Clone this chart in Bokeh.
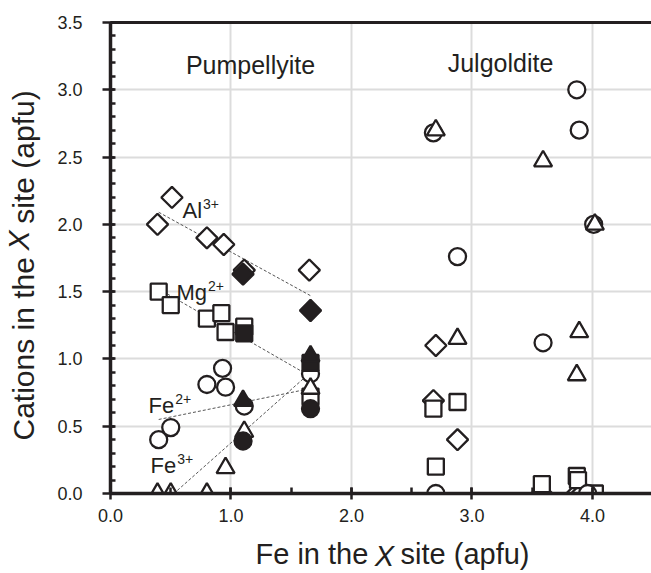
import math

from bokeh.embed import file_html
from bokeh.models import (FixedTicker, Label, LinearAxis, NumeralTickFormatter,
                          Range1d, SingleIntervalTicker, Title)
from bokeh.plotting import figure
from bokeh.resources import INLINE

# ---------------------------------------------------------------------------
# X-site cations (apfu) against Fe in the X site (apfu)
# open symbols and filled symbols are the two sets of analyses
# ---------------------------------------------------------------------------

# Al3+ (diamonds)
al_open_x = [0.39, 0.51, 0.80, 0.94, 1.11, 1.65, 2.70, 2.68, 2.88, 3.58, 3.87, 3.91]
al_open_y = [2.00, 2.20, 1.90, 1.85, 1.66, 1.66, 1.10, 0.69, 0.40, 0.00, 0.00, 0.00]
al_fill_x = [1.10, 1.66]
al_fill_y = [1.63, 1.36]

# Mg2+ (squares)
mg_open_x = [0.40, 0.50, 0.80, 0.92, 0.955, 1.11, 1.66, 2.68, 2.88, 2.70, 3.58, 3.87, 3.88, 4.02]
mg_open_y = [1.50, 1.40, 1.30, 1.34, 1.20, 1.24, 0.72, 0.63, 0.68, 0.20, 0.07, 0.13, 0.10, 0.00]
mg_fill_x = [1.11, 1.66]
mg_fill_y = [1.19, 0.97]

# Fe2+ (circles)
fe2_open_x = [0.40, 0.50, 0.80, 0.93, 0.955, 1.11, 1.66, 2.68, 2.88, 3.59, 3.87, 3.89, 4.01, 2.70, 3.96]
fe2_open_y = [0.40, 0.49, 0.81, 0.93, 0.79, 0.65, 0.89, 2.68, 1.76, 1.12, 3.00, 2.70, 2.00, 0.00, 0.00]
fe2_fill_x = [1.10, 1.66]
fe2_fill_y = [0.39, 0.63]

# Fe3+ (triangles)
fe3_open_x = [0.39, 0.50, 0.80, 0.955, 1.11, 1.66, 2.70, 2.88, 3.59, 3.89, 3.87, 4.02]
fe3_open_y = [0.00, 0.00, 0.00, 0.19, 0.46, 0.78, 2.70, 1.15, 2.47, 1.20, 0.88, 2.00]
fe3_fill_x = [1.10, 1.66]
fe3_fill_y = [0.69, 1.02]

# trend lines through the pumpellyite analyses (end points)
trend_x = [0.40, 1.66]
al_trend_y = [2.09, 1.47]
mg_trend_y = [1.52, 0.87]
fe2_trend_y = [0.55, 0.78]
fe3_trend_y = [-0.10, 0.90]

x_ticks = [0.0, 1.0, 2.0, 3.0, 4.0]
y_ticks = [0.0, 0.5, 1.0, 1.5, 2.0, 2.5, 3.0, 3.5]

# ---------------------------------------------------------------------------
INK = "#231f20"
FONT = "Liberation Sans"
W, H = 651, 573
LEFT, RIGHT, TOP, BOTTOM = 110, 0, 22, 80
XR = (0.0, 4.49)
YR = (0.0, 3.5)

p = figure(width=W, height=H, x_range=Range1d(*XR), y_range=Range1d(*YR),
           output_backend="svg", toolbar_location=None,
           min_border_left=LEFT, min_border_right=RIGHT,
           min_border_top=TOP, min_border_bottom=BOTTOM)
p.outline_line_color = None
p.background_fill_color = "white"
p.border_fill_color = "white"

# axes
p.xaxis.ticker = SingleIntervalTicker(interval=1.0, num_minor_ticks=2)
p.yaxis.ticker = SingleIntervalTicker(interval=0.5, num_minor_ticks=5)
p.xaxis.formatter = NumeralTickFormatter(format="0.0")
p.yaxis.formatter = NumeralTickFormatter(format="0.0")
for ax in (p.xaxis[0], p.yaxis[0]):
    ax.axis_line_color = INK
    ax.axis_line_width = 3.5
    ax.major_tick_line_color = INK
    ax.major_tick_line_width = 2.5
    ax.minor_tick_line_color = INK
    ax.minor_tick_line_width = 2.5
    ax.major_label_text_font = FONT
    ax.major_label_text_color = INK
    ax.major_label_text_font_size = "18px"
    ax.minor_tick_out = 0
p.xaxis.major_tick_in = 6
p.xaxis.major_tick_out = 6
p.xaxis.minor_tick_in = 6
p.xaxis.major_label_standoff = 9
p.yaxis.major_tick_in = 4
p.yaxis.major_tick_out = 8
p.yaxis.minor_tick_in = 5
p.yaxis.major_label_standoff = 20

top_axis = LinearAxis(ticker=FixedTicker(ticks=[]), axis_line_color=INK,
                      axis_line_width=3, major_tick_line_color=None,
                      minor_tick_line_color=None, major_label_text_font_size="0px")
p.add_layout(top_axis, "above")

# grid
p.xgrid.ticker = FixedTicker(ticks=x_ticks)
p.ygrid.ticker = FixedTicker(ticks=y_ticks)
p.xgrid.grid_line_color = "#dcdcdc"
p.ygrid.grid_line_color = "#dcdcdc"
p.xgrid.grid_line_width = 2
p.ygrid.grid_line_width = 2

# trend lines
for ty in (al_trend_y, mg_trend_y, fe2_trend_y, fe3_trend_y):
    p.line(trend_x, ty, line_color="#555555", line_width=1, line_dash="3 2")

# markers
LW = 2.3
SZ_DIAMOND, SZ_SQUARE, SZ_CIRCLE, SZ_TRI = 15, 16, 17, 18


def draw(x, y, kind, filled):
    fill = INK if filled else "white"
    if kind == "diamond":
        p.scatter(x, y, marker="square", angle=math.pi / 4, size=SZ_DIAMOND,
                  line_color=INK, line_width=LW, fill_color=fill)
    elif kind == "square":
        p.scatter(x, y, marker="square", size=SZ_SQUARE,
                  line_color=INK, line_width=LW, fill_color=fill)
    elif kind == "circle":
        p.scatter(x, y, marker="circle", size=SZ_CIRCLE,
                  line_color=INK, line_width=LW, fill_color=fill)
    else:
        p.scatter(x, y, marker="triangle", size=SZ_TRI,
                  line_color=INK, line_width=LW, fill_color=fill)


draw(al_open_x, al_open_y, "diamond", False)
draw(mg_open_x, mg_open_y, "square", False)
draw(fe2_open_x, fe2_open_y, "circle", False)
draw(fe3_open_x, fe3_open_y, "triangle", False)
draw(al_fill_x, al_fill_y, "diamond", True)
draw(mg_fill_x, mg_fill_y, "square", True)
draw(fe3_fill_x, fe3_fill_y, "triangle", True)
draw(fe2_fill_x, fe2_fill_y, "circle", True)

# ---------------------------------------------------------------------------
# text placed by pixel position (baseline) on the canvas
FW = W - LEFT - RIGHT
FH = H - TOP - BOTTOM
BASE_SHIFT = 0.36   # glyph baseline sits this fraction of the size below the anchor


def dx(px):
    return XR[0] + (px - LEFT) / FW * (XR[1] - XR[0])


def dy(py):
    return YR[1] - (py - TOP) / FH * (YR[1] - YR[0])


ARIAL = {"A": .667, "l": .222, "M": .833, "g": .556, "F": .611, "e": .556,
         " ": .278, "i": .222, "n": .556, "t": .278, "h": .556, "X": .667,
         "C": .722, "a": .556, "o": .556, "s": .5, "\u00a0": .278}


def text_width(s, size):
    return sum(ARIAL.get(c, .556) for c in s) * size


def make_label(px, py, text, size, align="left", angle=0.0):
    if angle:
        px -= BASE_SHIFT * size
    else:
        py -= BASE_SHIFT * size
    return Label(x=dx(px), y=dy(py), text=text, angle=angle,
                 text_font=FONT, text_font_size=f"{size}px",
                 text_color=INK, text_align=align, text_baseline="alphabetic")


def label(px, py, text, size, **kw):
    p.add_layout(make_label(px, py, text, size, **kw))


# mineral names
label(250, 73, "Pumpellyite", 25, align="center")
label(500, 71, "Julgoldite", 25, align="center")


# cation labels with raised charges
def ion(px, py, sym, charge, size=22, sup=14):
    label(px, py, sym, size)
    label(px + text_width(sym, size) + 1, py - 9, charge, sup)


ion(182, 218, "Al", "3+")
ion(176, 300, "Mg", "2+")
ion(148, 413, "Fe", "2+")
ion(150, 473, "Fe", "3+")

# axis titles: plain words in the side panels, italic X set into the gap
GAP = "\u00a0" * 4
XT, YT = 29, 30
x_head, x_tail = "Fe in the", "site (apfu)"
y_head, y_tail = "Cations in the", "site (apfu)"

p.add_layout(make_label(255, 564, x_head + GAP + x_tail, XT), "below")
p.add_layout(make_label(34, 440, y_head + GAP + y_tail, YT, angle=math.pi / 2), "left")

x_gap_left = 255 + text_width(x_head, XT)
x_italic_left = x_gap_left + (text_width(GAP, XT) - text_width("X", XT)) / 2
p.add_layout(Title(text="X", text_font=FONT, text_font_size=f"{XT}px",
                   text_font_style="italic", text_color=INK,
                   align="left", vertical_align="top",
                   offset=x_italic_left - LEFT, standoff=-33), "below")

y_gap_bottom = 440 - text_width(y_head, YT)
y_italic_bottom = y_gap_bottom - (text_width(GAP, YT) - text_width("X", YT)) / 2
p.add_layout(Title(text="X", text_font=FONT, text_font_size=f"{YT}px",
                   text_font_style="italic", text_color=INK,
                   align="left", vertical_align="top",
                   offset=(H - BOTTOM) - y_italic_bottom, standoff=-31), "left")

open("out.html", "w").write(file_html(p, INLINE))
